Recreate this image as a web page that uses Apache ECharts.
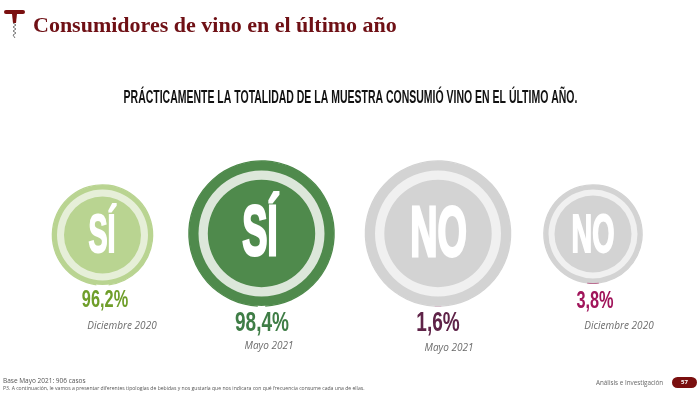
<!DOCTYPE html>
<html>
<head>
<meta charset="utf-8">
<style>html,body{margin:0;padding:0;background:#fff}#c{width:700px;height:394px}</style>
<script src="https://cdn.jsdelivr.net/npm/echarts@6/dist/echarts.min.js"></script>
</head>
<body>
<div id="c"></div>
<script>
const answers = ['SÍ', 'SÍ', 'NO', 'NO'];
const periods = ['Diciembre 2020', 'Mayo 2021', 'Mayo 2021', 'Diciembre 2020'];
const values = [96.2, 98.4, 1.6, 3.8];
const valueLabels = ['96,2%', '98,4%', '1,6%', '3,8%'];
const arcColors = ['#b9d491', '#4f8a4c', '#c9aebd', '#a5406f'];
const restColors = ['#ffffff', '#ffffff', '#d3d3d3', '#d3d3d3'];
const discColors = ['#b9d491', '#4f8a4c', '#d3d3d3', '#d3d3d3'];
const ringColors = ['#e6efd8', '#dce7da', '#f0f0f0', '#f0f0f0'];
const valueColors = ['#6f9e2a', '#3f7d46', '#5f2348', '#a0145a'];
const centersX = [102.5, 261.5, 438, 593];
const centersY = [235, 233.5, 233.5, 234];
const radii = [50, 72.5, 72.5, 49];
const ringInner = [38.5, 53.7, 53.7, 38.5];
const ringOuter = [45.5, 63, 63, 44.5];
const answerX = [102, 260, 438.5, 593];
const answerFont = [53, 70, 70, 53];
const answerStroke = [2, 3, 3, 2];
const answerY = [237, 236, 237, 237];
const valueX = [105, 262, 438, 595];
const valueY = [300, 323, 323, 301];
const valueFont = [24, 28, 28, 24];
const periodX = [122, 269, 449, 619];
const periodY = [326, 346, 348, 326];

const sansBold = '"Liberation Sans"';
const pieBase = {type: 'pie', silent: true, animation: false, label: {show: false}, labelLine: {show: false}};
const series = [];
const graphic = [];
values.forEach((v, i) => {
  const c = [centersX[i], centersY[i]], r = radii[i];
  // share arc or remainder gap is centred on the bottom of the circle
  const startAngle = v > 50 ? 270 - (100 - v) * 1.8 : 270 + v * 1.8;
  series.push({...pieBase, center: c, radius: [r - 0.5, r + 0.8], z: 1, startAngle, clockwise: true,
    data: [
      {value: v, itemStyle: {color: arcColors[i]}},
      {value: 100 - v, itemStyle: {color: restColors[i]}}
    ]});
  series.push({...pieBase, center: c, radius: [0, r], z: 2,
    data: [{value: 1, itemStyle: {color: discColors[i]}}]});
  series.push({...pieBase, center: c, radius: [ringInner[i], ringOuter[i]], z: 3,
    data: [{value: 1, itemStyle: {color: ringColors[i]}}]});
  graphic.push({type: 'text', z: 10, x: answerX[i], y: answerY[i], scaleX: 0.54,
    style: {text: answers[i], x: 0, y: 0, align: 'center', verticalAlign: 'middle', fill: '#fff',
      stroke: '#fff', lineWidth: answerStroke[i],
      font: 'bold ' + answerFont[i] + 'px ' + sansBold}});
  graphic.push({type: 'text', z: 10, x: valueX[i], y: valueY[i], scaleX: 0.68,
    style: {text: valueLabels[i], x: 0, y: 0, align: 'center', verticalAlign: 'middle', fill: valueColors[i],
      font: 'bold ' + valueFont[i] + 'px ' + sansBold}});
  graphic.push({type: 'text', z: 10, style: {text: periods[i], x: periodX[i], y: periodY[i],
    align: 'center', verticalAlign: 'middle', fill: '#6b6b6b',
    font: 'italic 10px "Open Sans"'}});
});

graphic.push(
  {type: 'rect', shape: {x: 4, y: 10, width: 21, height: 4, r: 2}, style: {fill: '#7a0f0f'}},
  {type: 'polygon', shape: {points: [[12, 14], [17, 14], [16, 23], [13, 23]]}, style: {fill: '#7a0f0f'}},
  {type: 'polyline', shape: {points: [[13, 23], [16, 25], [13, 27], [16, 29], [13, 31], [16, 33], [13, 35], [15, 38]]},
    style: {stroke: '#777', fill: null, lineWidth: 1}},
  {type: 'text', style: {text: 'Consumidores de vino en el último año', x: 33, y: 26, verticalAlign: 'middle',
    fill: '#6f1015', font: 'bold 22px "Liberation Serif"'}},
  {type: 'text', x: 350.5, y: 98, scaleX: 0.552, style: {text: 'PRÁCTICAMENTE LA TOTALIDAD DE LA MUESTRA CONSUMIÓ VINO EN EL ÚLTIMO AÑO.', x: 0, y: 0,
    align: 'center', verticalAlign: 'middle', fill: '#111', font: 'bold 19px ' + sansBold}},
  {type: 'text', style: {text: 'Base Mayo 2021: 906 casos', x: 3, y: 381, verticalAlign: 'middle', fill: '#555', font: '6.5px "Open Sans"'}},
  {type: 'text', style: {text: 'P3. A continuación, le vamos a presentar diferentes tipologías de bebidas y nos gustaría que nos indicara con qué frecuencia consume cada una de ellas.', x: 3, y: 389, verticalAlign: 'middle', fill: '#555', font: '5.1px "Open Sans"'}},
  {type: 'text', style: {text: 'Análisis e Investigación', x: 596, y: 383, verticalAlign: 'middle', fill: '#666', font: '6.3px "Open Sans"'}},
  {type: 'rect', shape: {x: 672, y: 377, width: 25, height: 11, r: 5.5}, style: {fill: '#7a0f0f'}},
  {type: 'text', z: 11, style: {text: '57', x: 684.5, y: 382.5, align: 'center', verticalAlign: 'middle', fill: '#fff', font: 'bold 6px "Open Sans"'}}
);

const chart = echarts.init(document.getElementById('c'));
chart.setOption({backgroundColor: '#fff', animation: false, series, graphic});
</script>
</body>
</html>
